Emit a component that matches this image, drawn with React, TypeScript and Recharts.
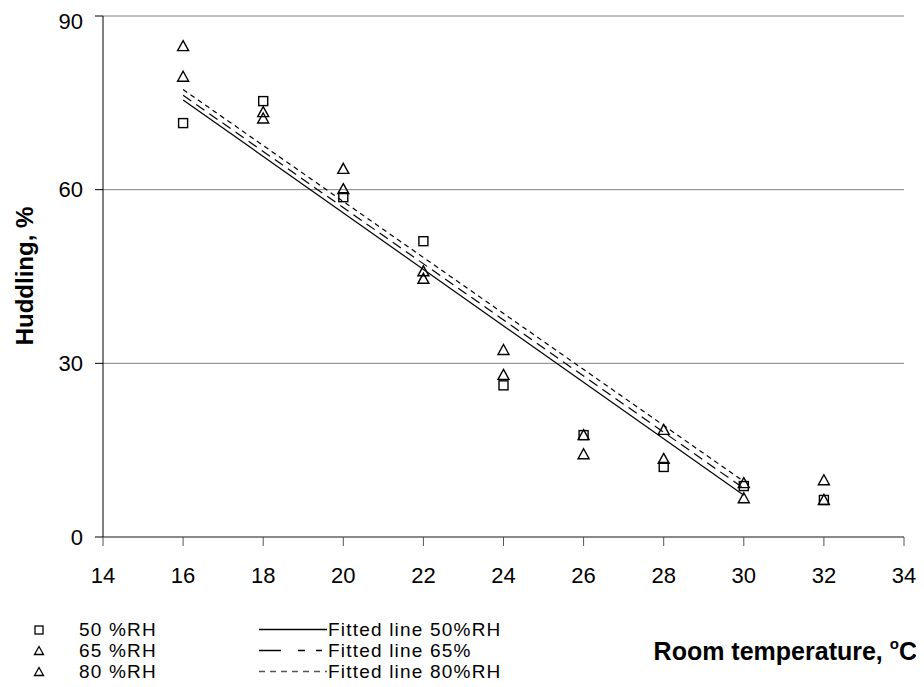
import { ComposedChart, Scatter, Line, XAxis, YAxis, CartesianGrid } from "recharts";

const temps = [16, 18, 20, 22, 24, 26, 28, 30, 32];
const rh50 = [71.5, 75.3, 58.7, 51.1, 26.2, 17.6, 12.1, 8.8, 6.4];
const rh65 = [79.5, 73.4, 60.1, 45.9, 28.0, 17.6, 13.5, 6.7, 9.8];
const rh80 = [84.8, 72.3, 63.6, 44.6, 32.3, 14.3, 18.5, 9.3, 6.4];

const fitX = [16, 30];
const fit50 = [75.5, 7.2];
const fit65 = [76.3, 8.4];
const fit80 = [77.3, 9.6];

const xTicks = [14, 16, 18, 20, 22, 24, 26, 28, 30, 32, 34];
const yTicks = [0, 30, 60, 90];

const FONT = '"Liberation Sans", Arial, sans-serif';

const pts = (ys: number[]) => temps.map((x, i) => ({ x, y: ys[i] }));
const fit = (ys: number[]) => fitX.map((x, i) => ({ x, y: ys[i] }));

const Square = (p: any) => (
  <rect x={p.cx - 4.5} y={p.cy - 4.5} width={9} height={9} fill="none" stroke="#000" strokeWidth={1.4} />
);

const Triangle = (p: any) => (
  <path
    d={`M${p.cx},${p.cy - 5.5} L${p.cx + 5.5},${p.cy + 4.5} L${p.cx - 5.5},${p.cy + 4.5} Z`}
    fill="none"
    stroke="#000"
    strokeWidth={1.4}
  />
);

const legendRows = [
  { label: "50 %RH", marker: "square", fit: "Fitted line 50%RH", dash: undefined, color: "#000" },
  { label: "65 %RH", marker: "tri", fit: "Fitted line 65%", dash: "22 17 7 11 6 20", color: "#000" },
  { label: "80 %RH", marker: "tri", fit: "Fitted line 80%RH", dash: "6 5", color: "#555" },
];

export default function App() {
  return (
    <div style={{ position: "relative", width: 916, height: 679, fontFamily: FONT, color: "#000" }}>
      <ComposedChart width={916} height={580} margin={{ top: 8, right: 20, left: 0, bottom: 0 }}>
        <CartesianGrid horizontal vertical={false} stroke="#808080" />
        <XAxis
          dataKey="x"
          type="number"
          domain={[14, 34]}
          ticks={xTicks}
          height={51}
          tickSize={9}
          tickMargin={21}
          stroke="#555"
          tick={{ fill: "#000", fontSize: 22, fontFamily: FONT }}
        />
        <YAxis
          dataKey="y"
          type="number"
          domain={[0, 90]}
          ticks={yTicks}
          width={95}
          tickSize={8}
          tickMargin={12}
          stroke="#000"
          tick={{ fill: "#000", fontSize: 22, fontFamily: FONT }}
        />
        <Line data={fit(fit50)} dataKey="y" stroke="#000" strokeWidth={1.2} dot={false} isAnimationActive={false} />
        <Line data={fit(fit65)} dataKey="y" stroke="#000" strokeWidth={1.2} strokeDasharray="10 6" dot={false} isAnimationActive={false} />
        <Line data={fit(fit80)} dataKey="y" stroke="#000" strokeWidth={1.2} strokeDasharray="5 4" dot={false} isAnimationActive={false} />
        <Scatter data={pts(rh50)} shape={Square} isAnimationActive={false} />
        <Scatter data={pts(rh65)} shape={Triangle} isAnimationActive={false} />
        <Scatter data={pts(rh80)} shape={Triangle} isAnimationActive={false} />
      </ComposedChart>

      <div
        style={{
          position: "absolute",
          left: 17,
          top: 268,
          transform: "translate(-50%, -50%) rotate(-90deg)",
          whiteSpace: "nowrap",
          fontWeight: "bold",
          fontSize: 24,
          lineHeight: "24px",
        }}
      >
        Huddling, %
      </div>

      <div
        style={{
          position: "absolute",
          right: 7,
          top: 631,
          whiteSpace: "nowrap",
          fontWeight: "bold",
          fontSize: 25,
          lineHeight: "25px",
        }}
      >
        Room temperature, <span style={{ fontSize: 15, position: "relative", top: -11 }}>o</span>C
      </div>

      {legendRows.map((r, i) => (
        <div
          key={r.label}
          style={{
            position: "absolute",
            left: 0,
            top: 611 + i * 21,
            height: 21,
            width: 520,
            fontSize: 19,
            letterSpacing: 1.2,
            lineHeight: "21px",
            whiteSpace: "nowrap",
          }}
        >
          <svg style={{ position: "absolute", left: 21, top: 0 }} width={20} height={21}>
            {r.marker === "square" ? (
              <rect x={6} y={7} width={8} height={8} fill="none" stroke="#000" strokeWidth={1.3} />
            ) : (
              <path d="M10,6.5 L14.5,14.5 L5.5,14.5 Z" fill="none" stroke="#000" strokeWidth={1.3} />
            )}
          </svg>
          <span style={{ position: "absolute", left: 71 }}>{r.label}</span>
          <svg style={{ position: "absolute", left: 251, top: 0 }} width={70} height={21}>
            <line x1={0} y1={10.5} x2={68} y2={10.5} stroke={r.color} strokeWidth={1.3} strokeDasharray={r.dash} />
          </svg>
          <span style={{ position: "absolute", left: 320 }}>{r.fit}</span>
        </div>
      ))}
    </div>
  );
}
